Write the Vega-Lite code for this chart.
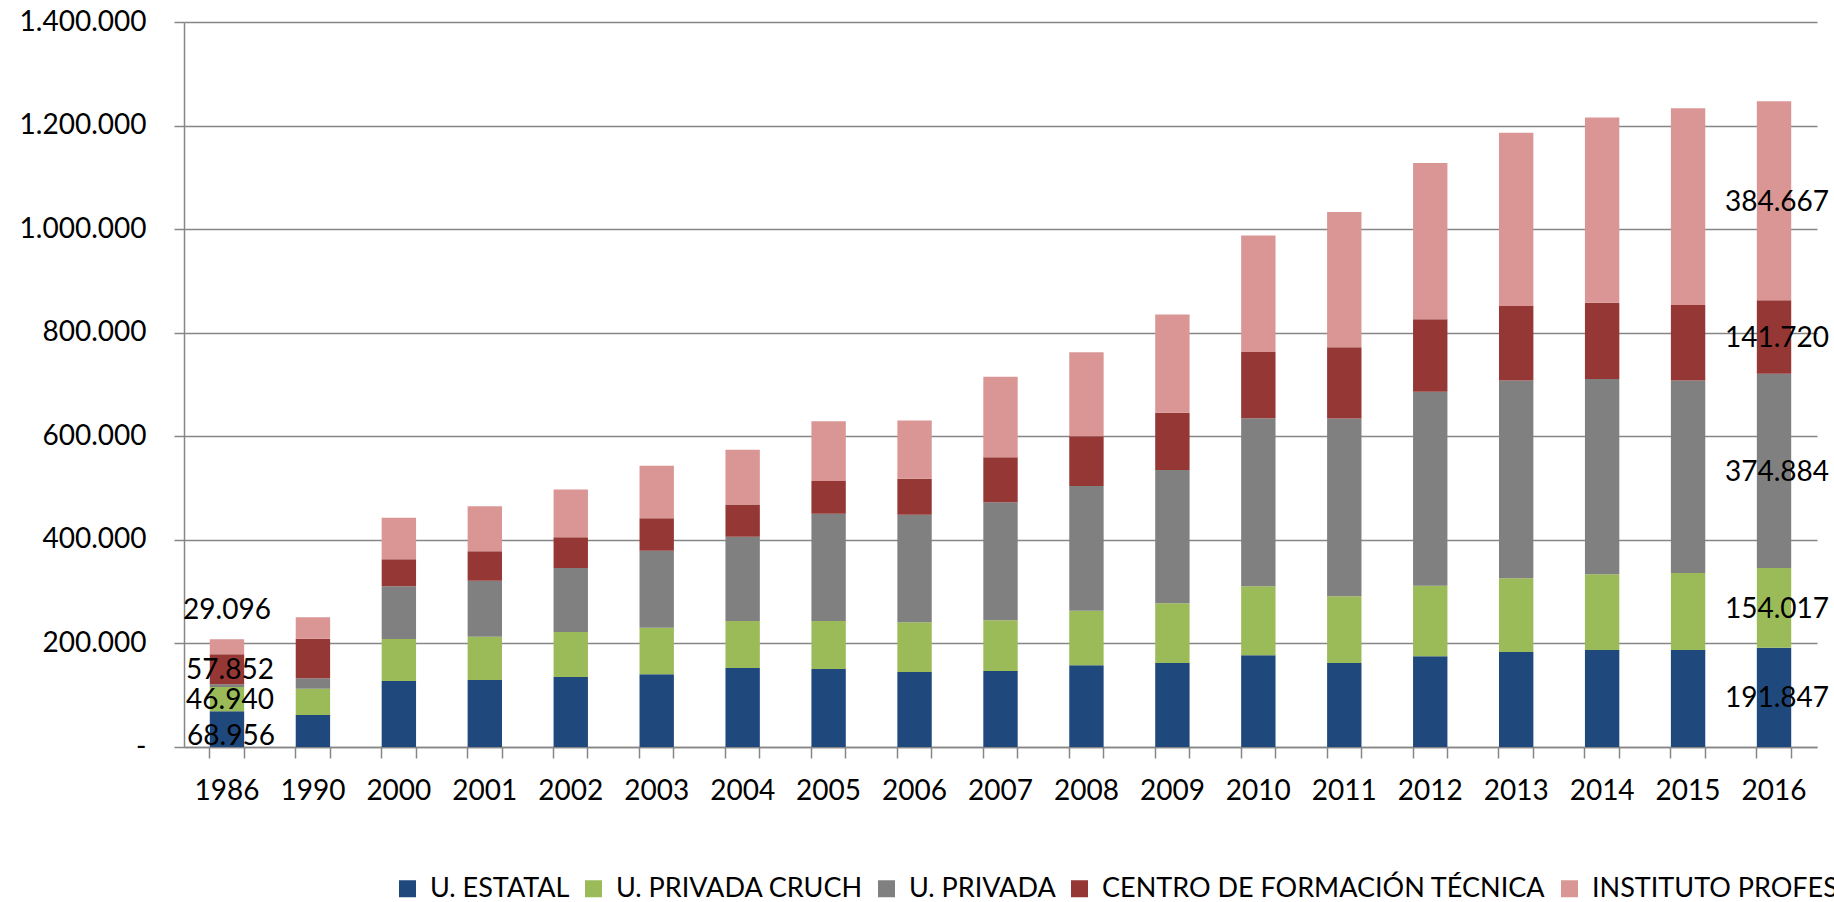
{
  "$schema": "https://vega.github.io/schema/vega-lite/v6.json",
  "width": 1633,
  "height": 725,
  "autosize": {"type": "none"},
  "padding": {"left": 184, "top": 22, "right": 17, "bottom": 155},
  "background": "white",
  "config": {
    "view": {"stroke": null},
    "font": "Lato",
    "locale": {"number": {"decimal": ",", "thousands": ".", "grouping": [3], "currency": ["$", ""]}}
  },
  "data": {
    "values": [
      {"year": "1986", "cat": "U. ESTATAL", "value": 68956},
      {"year": "1986", "cat": "U. PRIVADA CRUCH", "value": 46940},
      {"year": "1986", "cat": "U. PRIVADA", "value": 5400},
      {"year": "1986", "cat": "CENTRO DE FORMACIÓN TÉCNICA", "value": 57852},
      {"year": "1986", "cat": "INSTITUTO PROFESIONAL", "value": 29096},
      {"year": "1990", "cat": "U. ESTATAL", "value": 61800},
      {"year": "1990", "cat": "U. PRIVADA CRUCH", "value": 50900},
      {"year": "1990", "cat": "U. PRIVADA", "value": 19900},
      {"year": "1990", "cat": "CENTRO DE FORMACIÓN TÉCNICA", "value": 76600},
      {"year": "1990", "cat": "INSTITUTO PROFESIONAL", "value": 41200},
      {"year": "2000", "cat": "U. ESTATAL", "value": 127400},
      {"year": "2000", "cat": "U. PRIVADA CRUCH", "value": 81100},
      {"year": "2000", "cat": "U. PRIVADA", "value": 101700},
      {"year": "2000", "cat": "CENTRO DE FORMACIÓN TÉCNICA", "value": 52200},
      {"year": "2000", "cat": "INSTITUTO PROFESIONAL", "value": 80400},
      {"year": "2001", "cat": "U. ESTATAL", "value": 129300},
      {"year": "2001", "cat": "U. PRIVADA CRUCH", "value": 83800},
      {"year": "2001", "cat": "U. PRIVADA", "value": 108100},
      {"year": "2001", "cat": "CENTRO DE FORMACIÓN TÉCNICA", "value": 56600},
      {"year": "2001", "cat": "INSTITUTO PROFESIONAL", "value": 87300},
      {"year": "2002", "cat": "U. ESTATAL", "value": 135100},
      {"year": "2002", "cat": "U. PRIVADA CRUCH", "value": 86900},
      {"year": "2002", "cat": "U. PRIVADA", "value": 123500},
      {"year": "2002", "cat": "CENTRO DE FORMACIÓN TÉCNICA", "value": 59300},
      {"year": "2002", "cat": "INSTITUTO PROFESIONAL", "value": 92600},
      {"year": "2003", "cat": "U. ESTATAL", "value": 140300},
      {"year": "2003", "cat": "U. PRIVADA CRUCH", "value": 90200},
      {"year": "2003", "cat": "U. PRIVADA", "value": 148600},
      {"year": "2003", "cat": "CENTRO DE FORMACIÓN TÉCNICA", "value": 62400},
      {"year": "2003", "cat": "INSTITUTO PROFESIONAL", "value": 101700},
      {"year": "2004", "cat": "U. ESTATAL", "value": 152500},
      {"year": "2004", "cat": "U. PRIVADA CRUCH", "value": 90700},
      {"year": "2004", "cat": "U. PRIVADA", "value": 162900},
      {"year": "2004", "cat": "CENTRO DE FORMACIÓN TÉCNICA", "value": 62400},
      {"year": "2004", "cat": "INSTITUTO PROFESIONAL", "value": 105600},
      {"year": "2005", "cat": "U. ESTATAL", "value": 150600},
      {"year": "2005", "cat": "U. PRIVADA CRUCH", "value": 92600},
      {"year": "2005", "cat": "U. PRIVADA", "value": 207300},
      {"year": "2005", "cat": "CENTRO DE FORMACIÓN TÉCNICA", "value": 63000},
      {"year": "2005", "cat": "INSTITUTO PROFESIONAL", "value": 115300},
      {"year": "2006", "cat": "U. ESTATAL", "value": 144800},
      {"year": "2006", "cat": "U. PRIVADA CRUCH", "value": 95900},
      {"year": "2006", "cat": "U. PRIVADA", "value": 208000},
      {"year": "2006", "cat": "CENTRO DE FORMACIÓN TÉCNICA", "value": 69500},
      {"year": "2006", "cat": "INSTITUTO PROFESIONAL", "value": 112500},
      {"year": "2007", "cat": "U. ESTATAL", "value": 146700},
      {"year": "2007", "cat": "U. PRIVADA CRUCH", "value": 97900},
      {"year": "2007", "cat": "U. PRIVADA", "value": 227800},
      {"year": "2007", "cat": "CENTRO DE FORMACIÓN TÉCNICA", "value": 86900},
      {"year": "2007", "cat": "INSTITUTO PROFESIONAL", "value": 155800},
      {"year": "2008", "cat": "U. ESTATAL", "value": 157700},
      {"year": "2008", "cat": "U. PRIVADA CRUCH", "value": 105600},
      {"year": "2008", "cat": "U. PRIVADA", "value": 240600},
      {"year": "2008", "cat": "CENTRO DE FORMACIÓN TÉCNICA", "value": 96000},
      {"year": "2008", "cat": "INSTITUTO PROFESIONAL", "value": 162200},
      {"year": "2009", "cat": "U. ESTATAL", "value": 162200},
      {"year": "2009", "cat": "U. PRIVADA CRUCH", "value": 115200},
      {"year": "2009", "cat": "U. PRIVADA", "value": 257400},
      {"year": "2009", "cat": "CENTRO DE FORMACIÓN TÉCNICA", "value": 110800},
      {"year": "2009", "cat": "INSTITUTO PROFESIONAL", "value": 189800},
      {"year": "2010", "cat": "U. ESTATAL", "value": 177000},
      {"year": "2010", "cat": "U. PRIVADA CRUCH", "value": 133200},
      {"year": "2010", "cat": "U. PRIVADA", "value": 324400},
      {"year": "2010", "cat": "CENTRO DE FORMACIÓN TÉCNICA", "value": 128000},
      {"year": "2010", "cat": "INSTITUTO PROFESIONAL", "value": 225300},
      {"year": "2011", "cat": "U. ESTATAL", "value": 162200},
      {"year": "2011", "cat": "U. PRIVADA CRUCH", "value": 128700},
      {"year": "2011", "cat": "U. PRIVADA", "value": 343500},
      {"year": "2011", "cat": "CENTRO DE FORMACIÓN TÉCNICA", "value": 137600},
      {"year": "2011", "cat": "INSTITUTO PROFESIONAL", "value": 261300},
      {"year": "2012", "cat": "U. ESTATAL", "value": 175100},
      {"year": "2012", "cat": "U. PRIVADA CRUCH", "value": 136400},
      {"year": "2012", "cat": "U. PRIVADA", "value": 374600},
      {"year": "2012", "cat": "CENTRO DE FORMACIÓN TÉCNICA", "value": 140100},
      {"year": "2012", "cat": "INSTITUTO PROFESIONAL", "value": 301300},
      {"year": "2013", "cat": "U. ESTATAL", "value": 183400},
      {"year": "2013", "cat": "U. PRIVADA CRUCH", "value": 142300},
      {"year": "2013", "cat": "U. PRIVADA", "value": 382200},
      {"year": "2013", "cat": "CENTRO DE FORMACIÓN TÉCNICA", "value": 143500},
      {"year": "2013", "cat": "INSTITUTO PROFESIONAL", "value": 334700},
      {"year": "2014", "cat": "U. ESTATAL", "value": 187300},
      {"year": "2014", "cat": "U. PRIVADA CRUCH", "value": 146100},
      {"year": "2014", "cat": "U. PRIVADA", "value": 377100},
      {"year": "2014", "cat": "CENTRO DE FORMACIÓN TÉCNICA", "value": 147300},
      {"year": "2014", "cat": "INSTITUTO PROFESIONAL", "value": 357800},
      {"year": "2015", "cat": "U. ESTATAL", "value": 187300},
      {"year": "2015", "cat": "U. PRIVADA CRUCH", "value": 148600},
      {"year": "2015", "cat": "U. PRIVADA", "value": 372000},
      {"year": "2015", "cat": "CENTRO DE FORMACIÓN TÉCNICA", "value": 145400},
      {"year": "2015", "cat": "INSTITUTO PROFESIONAL", "value": 380000},
      {"year": "2016", "cat": "U. ESTATAL", "value": 191847},
      {"year": "2016", "cat": "U. PRIVADA CRUCH", "value": 154017},
      {"year": "2016", "cat": "U. PRIVADA", "value": 374884},
      {"year": "2016", "cat": "CENTRO DE FORMACIÓN TÉCNICA", "value": 141720},
      {"year": "2016", "cat": "INSTITUTO PROFESIONAL", "value": 384667}
    ]
  },
  "transform": [
    {"calculate": "indexof(['U. ESTATAL','U. PRIVADA CRUCH','U. PRIVADA','CENTRO DE FORMACIÓN TÉCNICA','INSTITUTO PROFESIONAL'], datum.cat)", "as": "k"},
    {"stack": "value", "groupby": ["year"], "sort": [{"field": "k", "order": "ascending"}], "as": ["v0", "v1"]},
    {"calculate": "(datum.v0 + datum.v1) / 2", "as": "mid"}
  ],
  "layer": [
    {
      "mark": {"type": "bar"},
      "encoding": {
        "x": {
          "field": "year", "type": "ordinal", "sort": null,
          "scale": {"paddingInner": 0.6, "paddingOuter": 0.3},
          "axis": {
            "orient": "bottom", "title": null, "bandPosition": 0,
            "labelAngle": 0, "labelFont": "Lato", "labelFontSize": 28, "labelColor": "#000000",
            "labelPadding": 19, "tickSize": 11, "tickColor": "#868686", "tickWidth": 1.5,
            "domainColor": "#868686", "domainWidth": 1.5, "grid": false
          }
        },
        "y": {
          "field": "v1", "type": "quantitative",
          "scale": {"domain": [0, 1400000], "nice": false, "zero": true},
          "axis": {
            "title": null, "values": [0, 200000, 400000, 600000, 800000, 1000000, 1200000, 1400000],
            "format": ",d",
            "labelExpr": "datum.value === 0 ? '-\u00a0\u00a0\u00a0' : datum.label",
            "labelFont": "Lato", "labelFontSize": 28, "labelColor": "#000000",
            "labelPadding": 28, "tickSize": 10, "tickColor": "#868686", "tickWidth": 1.5,
            "domainColor": "#868686", "domainWidth": 1.5,
            "grid": true, "gridColor": "#868686", "gridWidth": 1.5
          }
        },
        "y2": {"field": "v0"},
        "color": {
          "field": "cat", "type": "nominal",
          "scale": {
            "domain": ["U. ESTATAL", "U. PRIVADA CRUCH", "U. PRIVADA", "CENTRO DE FORMACIÓN TÉCNICA", "INSTITUTO PROFESIONAL"],
            "range": ["#1F497D", "#9BBB59", "#808080", "#953735", "#D99694"]
          },
          "legend": {
            "title": null, "orient": "none", "legendX": 210, "legendY": 853,
            "direction": "horizontal", "columns": 5, "padding": 0,
            "symbolType": "square", "symbolSize": 289, "symbolStrokeWidth": 0,
            "labelFont": "Lato", "labelFontSize": 27, "labelColor": "#000000",
            "labelOffset": 9, "columnPadding": 10, "labelLimit": 1000
          }
        }
      }
    },
    {
      "transform": [{"filter": "datum.year === '2016' || (datum.year === '1986' && (datum.cat === 'U. PRIVADA CRUCH' || datum.cat === 'CENTRO DE FORMACIÓN TÉCNICA'))"}],
      "mark": {"type": "text", "font": "Lato", "fontSize": 28, "color": "#000000", "baseline": "middle", "align": "center", "dx": 3, "dy": 2},
      "encoding": {
        "x": {
          "field": "year", "type": "ordinal", "sort": null,
          "axis": {
            "orient": "bottom", "title": null, "bandPosition": 1, "labels": false, "domain": false, "grid": false,
            "tickSize": 11, "tickColor": "#868686", "tickWidth": 1.5
          }
        },
        "y": {"field": "mid", "type": "quantitative"},
        "text": {"field": "value", "type": "quantitative", "format": ",d"}
      }
    },
    {
      "transform": [{"filter": "datum.year === '1986' && datum.cat === 'U. ESTATAL'"}],
      "mark": {"type": "text", "font": "Lato", "fontSize": 28, "color": "#000000", "baseline": "middle", "align": "center", "dx": 4, "dy": 8},
      "encoding": {
        "x": {"field": "year", "type": "ordinal", "sort": null, "axis": null},
        "y": {"field": "mid", "type": "quantitative"},
        "text": {"field": "value", "type": "quantitative", "format": ",d"}
      }
    },
    {
      "transform": [{"filter": "datum.year === '1986' && datum.cat === 'INSTITUTO PROFESIONAL'"}],
      "mark": {"type": "text", "font": "Lato", "fontSize": 28, "color": "#000000", "baseline": "middle", "align": "center", "dx": 0, "dy": -36},
      "encoding": {
        "x": {"field": "year", "type": "ordinal", "sort": null, "axis": null},
        "y": {"field": "mid", "type": "quantitative"},
        "text": {"field": "value", "type": "quantitative", "format": ",d"}
      }
    }
  ],
  "resolve": {"axis": {"x": "independent"}}
}
